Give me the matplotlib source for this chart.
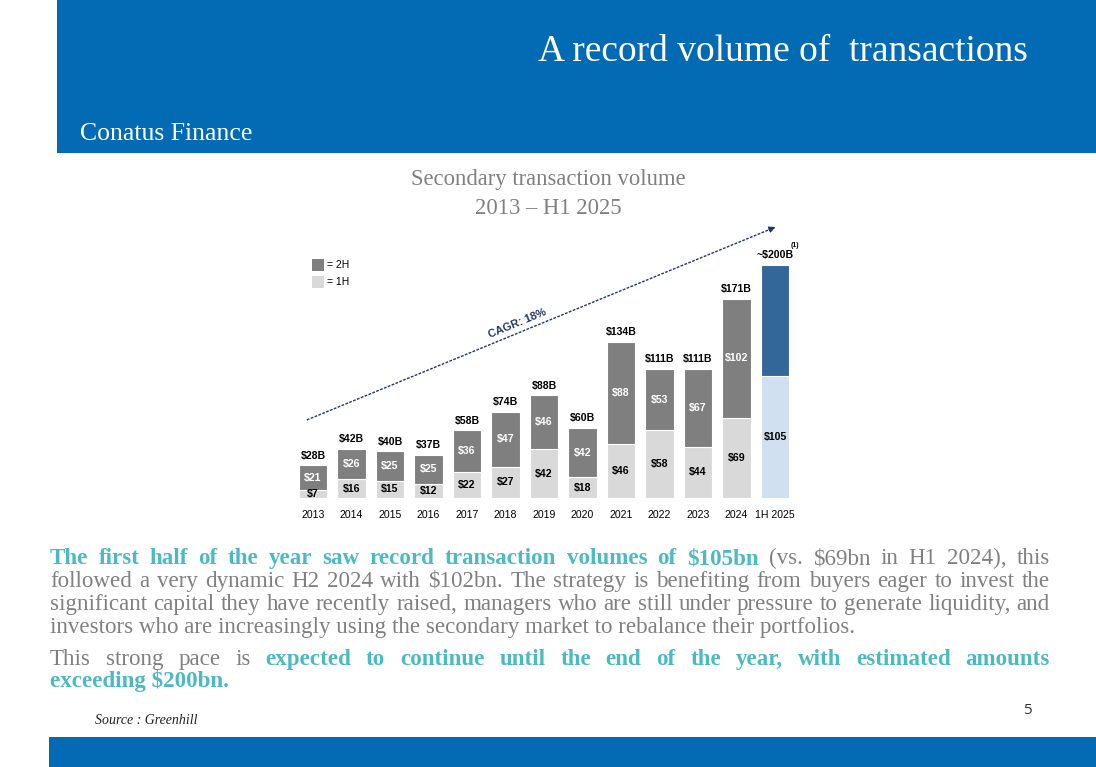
import numpy as np
import matplotlib
matplotlib.use('Agg')
import matplotlib.pyplot as plt
from matplotlib.patches import Rectangle

# chart data
years = ['2013', '2014', '2015', '2016', '2017', '2018', '2019', '2020',
         '2021', '2022', '2023', '2024', '1H 2025']
h1 = [7, 16, 15, 12, 22, 27, 42, 18, 46, 58, 44, 69, 105]
h2 = [21, 26, 25, 25, 36, 47, 46, 42, 88, 53, 67, 102, 95]
totals = ['$28B', '$42B', '$40B', '$37B', '$58B', '$74B', '$88B', '$60B',
          '$134B', '$111B', '$111B', '$171B', '~$200B']

BLUE = '#036AB4'
TEAL = '#4CBAC3'
GREY_TXT = '#808080'
DARK = '#7F7F7F'
LIGHT = '#D9D9D9'
EST_DARK = '#336699'
EST_LIGHT = '#D0E0F1'
NAVY = '#203864'

W, H = 1096, 767
fig = plt.figure(figsize=(W / 100, H / 100), dpi=100)


def fx(x):
    return x / W


def fy(y):
    return 1 - y / H


# header and footer bands
fig.add_artist(Rectangle((fx(57), fy(153)), (W - 57) / W, 153 / H,
                         transform=fig.transFigure, color=BLUE, lw=0, zorder=0))
fig.add_artist(Rectangle((fx(49), 0), (W - 49) / W, 30 / H,
                         transform=fig.transFigure, color=BLUE, lw=0, zorder=0))

serif = 'Liberation Serif'
sans = 'Liberation Sans'

fig.text(fx(1028), fy(48), 'A record volume of  transactions', color='white',
         family=serif, fontsize=27, ha='right', va='center_baseline')
fig.text(fx(80), fy(134), 'Conatus Finance', color='white', family=serif,
         fontsize=18.5, ha='left', va='center')

fig.text(fx(548), fy(180), 'Secondary transaction volume', color=GREY_TXT,
         family=serif, fontsize=16.3, ha='center', va='center')
fig.text(fx(548), fy(208), '2013 \u2013 H1 2025', color=GREY_TXT,
         family=serif, fontsize=16.3, ha='center', va='center')

# bar chart
px_per_unit = 1.165
ytop = 245
ax = fig.add_axes([293.75 / W, fy(498), 500.5 / W, ytop * px_per_unit / H])
ax.set_xlim(-0.5, len(years) - 0.5)
ax.set_ylim(0, ytop)
ax.axis('off')

x = np.arange(len(years))
light_c = [LIGHT] * (len(years) - 1) + [EST_LIGHT]
dark_c = [DARK] * (len(years) - 1) + [EST_DARK]
ax.bar(x, h1, width=0.75, color=light_c, edgecolor='white', linewidth=0.8)
ax.bar(x, h2, width=0.75, bottom=h1, color=dark_c, edgecolor='white', linewidth=0.8)

fs = 7.6
for i in range(len(years)):
    ax.text(i, h1[i] / 2, f'${h1[i]}', ha='center', va='center', fontsize=fs,
            fontweight='bold', family=sans, color='black')
    if i < len(years) - 1:
        ax.text(i, h1[i] + h2[i] / 2, f'${h2[i]}', ha='center', va='center',
                fontsize=fs, fontweight='bold', family=sans, color='white')
    ax.annotate(totals[i], (i, h1[i] + h2[i]), xytext=(0, 3.5),
                textcoords='offset points', ha='center', va='bottom',
                fontsize=fs, fontweight='bold', family=sans)
    ax.annotate(years[i], (i, 0), xytext=(0, -12.4), textcoords='offset points',
                ha='center', va='center', fontsize=fs, family=sans,
                annotation_clip=False)

ax.annotate('(1)', (len(years) - 1, h1[-1] + h2[-1]), xytext=(14.5, 14),
            textcoords='offset points', ha='center', va='center', fontsize=5,
            fontweight='bold', family=sans, annotation_clip=False)

# CAGR trend arrow
x0, y0, x1, y1 = -0.16, 67, 12.08, 233.5
ax.plot([x0, x1 - 0.1], [y0, y1 - 1.4], color=NAVY, lw=1, ls=(0, (2, 1)),
        clip_on=False)
ax.annotate('', xy=(x1, y1), xytext=(x1 - 0.3, y1 - 4.1),
            arrowprops=dict(arrowstyle='-|>', color=NAVY, lw=1, mutation_scale=9),
            annotation_clip=False)
ax.text(5.3, 149.4, 'CAGR: 18%', rotation=22.4, rotation_mode='anchor',
        ha='center', va='center', fontsize=8, fontweight='bold', color=NAVY,
        family=sans)

# legend
for yy, col, lab in [(259, DARK, '= 2H'), (276, LIGHT, '= 1H')]:
    fig.add_artist(Rectangle((fx(312), fy(yy + 12)), 12 / W, 12 / H,
                             transform=fig.transFigure, color=col, lw=0))
    fig.text(fx(327), fy(yy + 6), lab, fontsize=7.5, family=sans,
             ha='left', va='center')

# justified paragraph
renderer = fig.canvas.get_renderer()
reg = dict(family=serif, fontsize=16.6, color=GREY_TXT)
bold = dict(family=serif, fontsize=16.6, color=TEAL, fontweight='bold')


def justified(segments, y, left=50, right=1050):
    words = []
    for txt, st in segments:
        for w in txt.split():
            words.append((w, st))
    arts = [fig.text(0, fy(y), w, ha='left', va='baseline', **st) for w, st in words]
    widths = [a.get_window_extent(renderer).width for a in arts]
    gap = (right - left - sum(widths)) / (len(arts) - 1)
    pos = left
    for a, wd in zip(arts, widths):
        a.set_x(fx(pos))
        pos += wd + gap


justified([('The first half of the year saw record transaction volumes of $105bn', bold),
           ('(vs. $69bn in H1 2024), this', reg)], 564)
justified([('followed a very dynamic H2 2024 with $102bn. The strategy is benefiting '
            'from buyers eager to invest the', reg)], 587)
justified([('significant capital they have recently raised, managers who are still '
            'under pressure to generate liquidity, and', reg)], 610)
fig.text(fx(50), fy(633), 'investors who are increasingly using the secondary market '
         'to rebalance their portfolios.', ha='left', va='baseline', **reg)
justified([('This strong pace is', reg),
           ('expected to continue until the end of the year, with estimated amounts', bold)], 665)
fig.text(fx(50), fy(687), 'exceeding $200bn.', ha='left', va='baseline', **bold)

fig.text(fx(95), fy(720), 'Source : Greenhill', family=serif, style='italic',
         fontsize=10, ha='left', va='center', color='#222222')
fig.text(fx(1027), fy(711), '5', family='Open Sans', fontsize=11,
         ha='center', va='center', color='#333333')

fig.savefig('out.png', dpi=100)
